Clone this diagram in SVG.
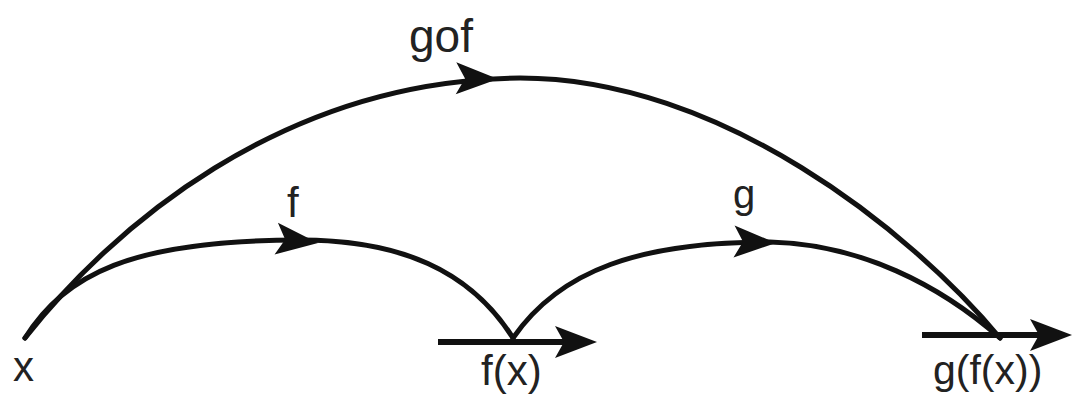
<svg xmlns="http://www.w3.org/2000/svg" width="1072" height="394" viewBox="0 0 1072 394">
<style>
.c{fill:none;stroke:#111;stroke-width:5;stroke-linecap:round}
.h{fill:none;stroke:#111;stroke-width:6}
.t{font-family:"Liberation Sans",Arial,sans-serif;font-size:42px;fill:#222}
.ah{fill:#111}
</style>
<defs>
<path id="head" d="M0,0 L-42,-16 L-33,0 L-42,16 Z"/>
</defs>
<g id="connectors">
<path class="c" d="M25,338 C110,230 280,80 520,78 C720,78 910,230 1000,338"/>
<path class="c" d="M25,338 C65,275 130,240 300,240 C400,240 470,270 513,338"/>
<path class="c" d="M513,338 C560,270 640,242 770,242 C860,244 940,285 1000,338"/>
<use href="#head" class="ah" transform="translate(498,79) rotate(1)"/>
<use href="#head" class="ah" transform="translate(318,243) rotate(6)"/>
<use href="#head" class="ah" transform="translate(776,243) rotate(2)"/>
</g>
<g id="node-x"><text class="t" x="13" y="381">x</text></g>
<g id="node-fx">
<path class="h" d="M438,342 H565"/>
<use href="#head" class="ah" transform="translate(597,342)"/>
<text class="t" x="481" y="385">f(x)</text>
</g>
<g id="node-gfx">
<path class="h" d="M922,335 H1045"/>
<use href="#head" class="ah" transform="translate(1072,335)"/>
<text class="t" x="933" y="384" style="font-size:41px">g(f(x))</text>
</g>
<g id="label-gof"><text class="t" x="409" y="52" style="font-size:46px">gof</text></g>
<g id="label-f"><text class="t" x="287" y="217">f</text></g>
<g id="label-g"><text class="t" x="733" y="208" style="font-size:40px">g</text></g>
</svg>
